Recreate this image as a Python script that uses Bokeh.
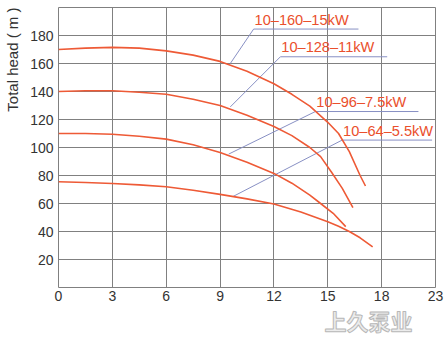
from bokeh.plotting import figure
from bokeh.models import FixedTicker, Title, ColumnDataSource, Range1d
from bokeh.core.properties import value
from bokeh.embed import file_html
from bokeh.resources import INLINE

# ---- data (flow m3/h, head m) ----
flow_15 = [0, 1.5, 3, 4.5, 6, 7.5, 9, 10.5, 12, 13, 14, 15, 15.6, 16.2, 16.8, 17.1]
head_15 = [170, 171, 171.5, 171, 169, 166, 161.5, 154.5, 145.5, 138, 129.5, 118, 110, 97, 80, 72.5]

flow_11 = [0, 1.5, 3, 4.5, 6, 7.5, 9, 10.5, 12, 13, 14, 14.6, 15.2, 15.8, 16.4]
head_11 = [140, 140.5, 140.5, 139.5, 138, 134.5, 130, 123, 115, 108.5, 100, 93.5, 82.5, 71, 57]

flow_75 = [0, 1.5, 3, 4.5, 6, 7.5, 9, 10.5, 12, 13, 14, 14.6, 15.3, 16]
head_75 = [110, 110, 109.5, 108, 106, 102, 96.5, 89.5, 81.5, 74.5, 66, 60, 53, 43.5]

flow_55 = [0, 1.5, 3, 4.5, 6, 7.5, 9, 10.5, 12, 13.5, 15, 15.6, 16.2, 16.8, 17.5]
head_55 = [75.5, 75, 74.3, 73.3, 72, 69.5, 66.5, 63.3, 59.6, 54, 47, 43.8, 40, 35.5, 29]

series_names = ["10\u2013160\u201315kW", "10\u2013128\u201311kW", "10\u201396\u20137.5kW", "10\u201364\u20135.5kW"]
# leader line: point on curve, label anchor (underline start), underline end
leader_curve_x = [9.57, 9.57, 9.48, 9.72]
leader_curve_y = [160, 129, 95.3, 65]
label_x = [10.87, 12.36, 14.31, 15.8]
label_y = [184.6, 164.8, 125.7, 105.3]
underline_end_x = [16.71, 18.31, 20.05, 20.81]

x_ticks = [0, 3, 6, 9, 12, 15, 18, 21]
x_tick_labels = ["0", "3", "6", "9", "12", "15", "18", "23"]
y_ticks = [20, 40, 60, 80, 100, 120, 140, 160, 180]
y_tick_labels = ["20", "40", "60", "80", "100", "120", "140", "160", "180"]
y_grid = [0, 20, 40, 60, 80, 100, 120, 140, 160, 180, 200]
y_title = "Total head ( m )"
watermark = "上久泵业"

CURVE = "#ee5a36"
TEXT = "#ea4f2c"
LEADER = "#8890c4"
GRID = "#808080"
FONT = "Liberation Sans"

p = figure(width=445, height=339, output_backend="svg", toolbar_location=None,
           x_range=Range1d(0, 21), y_range=Range1d(0, 200),
           min_border_left=58, min_border_right=10, min_border_top=7, min_border_bottom=52)
p.background_fill_color = "white"
p.border_fill_color = "white"
p.outline_line_color = GRID
p.outline_line_width = 1

p.xaxis.ticker = FixedTicker(ticks=x_ticks)
p.xaxis.major_label_overrides = {t: l for t, l in zip(x_ticks, x_tick_labels)}
p.yaxis.ticker = FixedTicker(ticks=y_ticks)
# an en space widens the axis panel (labels are right-aligned, digits unchanged)
p.yaxis.major_label_overrides = {t: ("\u2002" + l if t == 180 else l) for t, l in zip(y_ticks, y_tick_labels)}
for ax in (p.xaxis, p.yaxis):
    ax.axis_line_color = None
    ax.major_tick_line_color = None
    ax.minor_tick_line_color = None
    ax.major_tick_out = 0
    ax.major_tick_in = 0
    ax.minor_tick_out = 0
    ax.minor_tick_in = 0
    ax.major_label_text_font = FONT
    ax.major_label_text_font_size = "14px"
    ax.major_label_text_color = "#333333"
p.xaxis.major_label_standoff = 3
p.yaxis.major_label_standoff = 5

p.xgrid.ticker = FixedTicker(ticks=x_ticks)
p.ygrid.ticker = FixedTicker(ticks=y_grid)
for g in (p.xgrid, p.ygrid):
    g.grid_line_color = GRID
    g.grid_line_width = 1
    g.grid_line_alpha = 1.0

# leader lines
for i in range(4):
    p.line([leader_curve_x[i], label_x[i], underline_end_x[i]],
           [leader_curve_y[i], label_y[i], label_y[i]], line_color=LEADER, line_width=1)

# curves
for fx, hy in ((flow_15, head_15), (flow_11, head_11), (flow_75, head_75), (flow_55, head_55)):
    p.line(fx, hy, line_color=CURVE, line_width=1.6)

# curve labels
src = ColumnDataSource(dict(x=[lx + 0.05 for lx in label_x], y=[ly + 1.0 for ly in label_y], t=series_names))
p.text(x="x", y="y", text="t", source=src, text_font=value(FONT), text_font_size="14.6px",
       text_color=TEXT, text_baseline="bottom", text_align="left")

# y title (vertical, aligned to the top of the frame)
yt = Title(text=y_title, align="right", offset=0, standoff=0,
           text_font=FONT, text_font_size="15px", text_font_style="normal", text_color="#333333")
p.add_layout(yt, "left")

# watermark below the x axis, right side
wm = Title(text=watermark, align="right", vertical_align="top", offset=23, standoff=0,
           text_font="Noto Sans CJK SC", text_font_size="22px", text_font_style="bold",
           text_color="#ececec")
try:
    wm.text_outline_color = "#b8b8b8"
except Exception:
    wm.text_color = "#d4d4d4"
p.add_layout(wm, "below")

open("out.html", "w").write(file_html(p, INLINE))
